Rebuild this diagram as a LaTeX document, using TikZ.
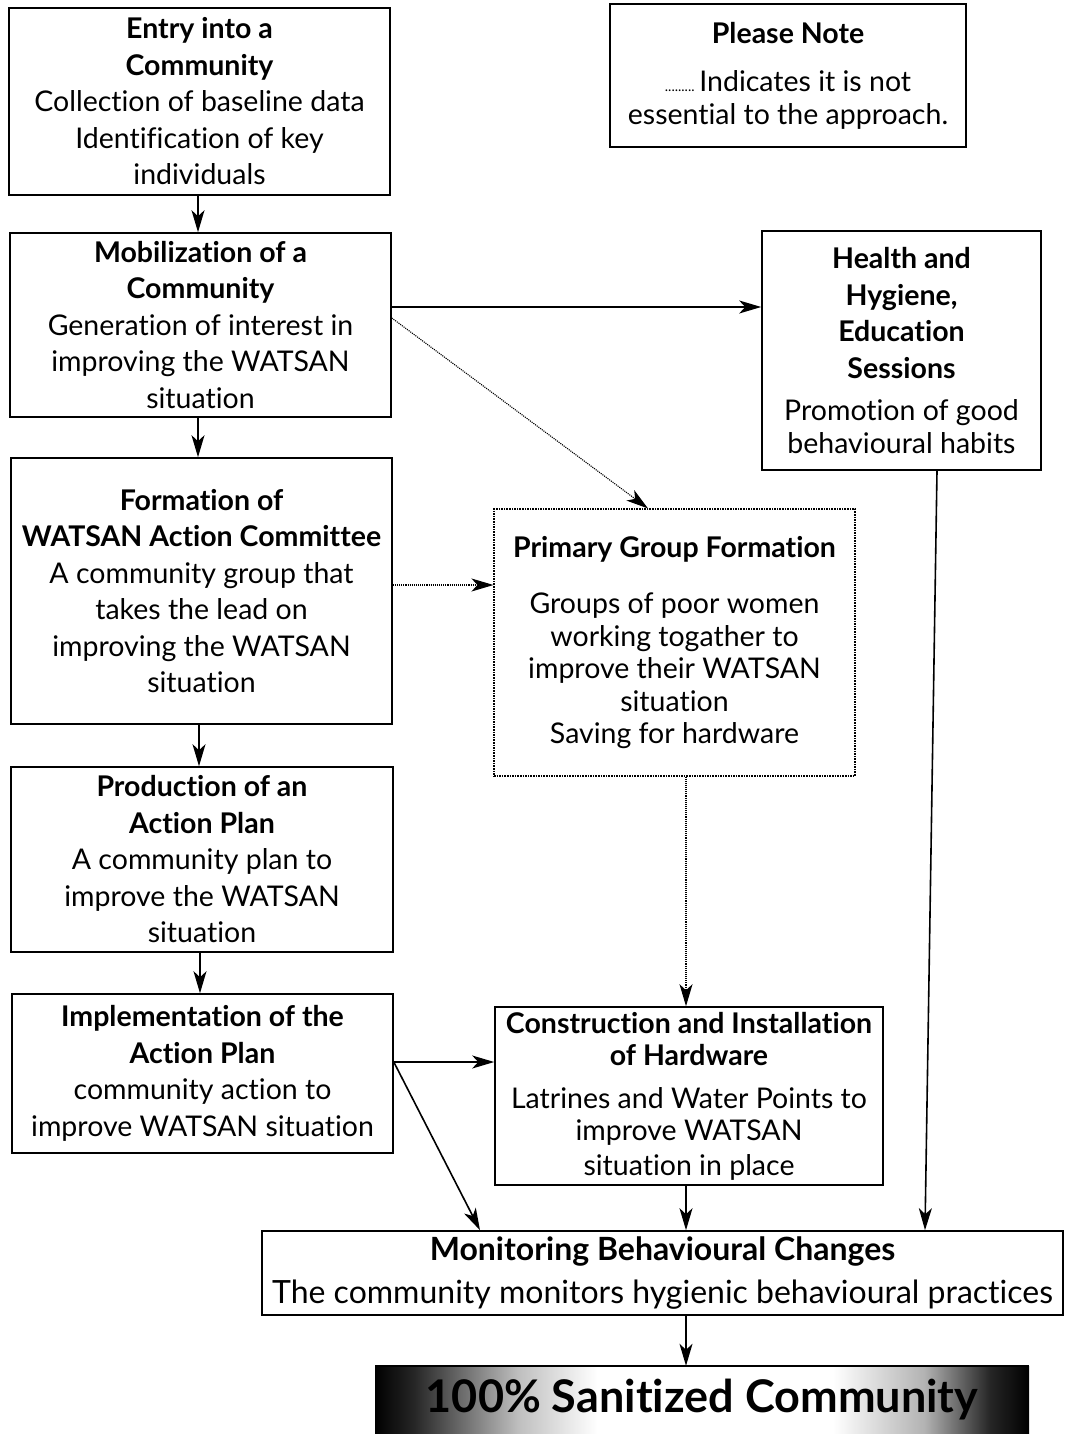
\documentclass[tikz,border=0pt]{standalone}
\usepackage{fontspec}
\setmainfont{Lato}[Ligatures=NoCommon]
\usetikzlibrary{arrows.meta,calc}
\pgfdeclarehorizontalshading{bannershade}{100bp}{color(0bp)=(black); color(25bp)=(black); color(28bp)=(black!85); color(36bp)=(black!25); color(42bp)=(white); color(60bp)=(white); color(67bp)=(black!30); color(72bp)=(black!85); color(75bp)=(black); color(100bp)=(black)}
\begin{document}
\begin{tikzpicture}[x=1pt,y=-1pt,
  box/.style={draw, line width=1.6pt, rectangle, inner sep=0pt, align=center,
    font=\fontsize{28.5}{36.5}\selectfont},
  dotbox/.style={box, densely dotted, line width=1.1pt},
  arr/.style={line width=1.6pt, -{Stealth[length=22pt,width=13pt,inset=6pt]}},
  darr/.style={line width=1.1pt, densely dotted, -{Stealth[length=22pt,width=13pt,inset=6pt]}}
]
\useasboundingbox (0,0) rectangle (1067,1434);
\fill[white] (0,0) rectangle (1067,1434);

\node[box, minimum width=381pt, minimum height=187pt] (entry) at (199.5,101.5)
 {\textbf{Entry into a}\\ \textbf{Community}\\ Collection of baseline data\\ Identification of key\\ individuals};
\node[box, minimum width=381pt, minimum height=184pt] (mob) at (200.5,325)
 {\textbf{Mobilization of a}\\ \textbf{Community}\\ Generation of interest in\\ improving the WATSAN\\ situation};
\node[box, minimum width=381pt, minimum height=266pt] (form) at (201.5,591)
 {\textbf{Formation of}\\ \textbf{WATSAN Action Committee}\\ A community group that\\ takes the lead on\\ improving the WATSAN\\ situation};
\node[box, minimum width=382pt, minimum height=185pt] (prod) at (202,859.5)
 {\textbf{Production of an}\\ \textbf{Action Plan}\\ A community plan to\\ improve the WATSAN\\ situation};
\node[box, minimum width=381pt, minimum height=159pt] (impl) at (202.5,1073.5)
 {\textbf{Implementation of the}\\ \textbf{Action Plan}\\ community action to\\ improve WATSAN situation};

\node[box, minimum width=356pt, minimum height=143pt] (note) at (788,75.5)
 {\textbf{Please Note}\\[12pt] {\fontsize{14}{14}\selectfont.........}\,Indicates it is not\\[-4pt] essential to the approach.};

\node[box, minimum width=279pt, minimum height=239pt] (health) at (901.5,350.5)
 {\textbf{Health and}\\ \textbf{Hygiene,}\\ \textbf{Education}\\ \textbf{Sessions}\\[6pt] Promotion of good\\[-4pt] behavioural habits};

\node[dotbox, minimum width=361pt, minimum height=267pt] (prim) at (674.5,642.5)
 {\textbf{Primary Group Formation}\\[20pt] Groups of poor women\\[-4pt] working togather to\\[-4pt] improve their WATSAN\\[-4pt] situation\\[-4pt] Saving for hardware};

\node[box, minimum width=388pt, minimum height=178pt] (cons) at (689,1096)
 {\textbf{Construction and Installation}\\[-4pt] \textbf{of Hardware}\\[6pt] Latrines and Water Points to\\[-4pt] improve WATSAN\\[-2pt] situation in place};

\node[box, minimum width=801pt, minimum height=84pt, font=\fontsize{32}{43}\selectfont] (mon) at (662.5,1273)
 {\textbf{Monitoring Behavioural Changes}\\ The community monitors hygienic behavioural practices};

\shade[shading=bannershade] (375,1366) rectangle (1029,1434);
\draw[line width=1.6pt] (375,1366) -- (1029,1366);
\node[inner sep=0pt, minimum width=654pt, minimum height=68pt, font=\fontsize{45}{45}\selectfont\bfseries] (banner) at (702,1400) {100\% Sanitized Community};

% connectors
\draw[arr] (entry.south -| 198,0) -- (mob.north -| 198,0);
\draw[arr] (mob.south -| 198,0) -- (form.north -| 198,0);
\draw[arr] (form.south -| 199,0) -- (prod.north -| 199,0);
\draw[arr] (prod.south -| 200,0) -- (impl.north -| 200,0);
\draw[arr] (mob.east |- 0,307) -- (health.west |- 0,307);
\draw[darr] (mob.east |- 0,318) -- (prim.north -| 648,0);
\draw[darr] (form.east |- 0,585) -- (prim.west |- 0,585);
\draw[darr] (prim.south -| 686,0) -- (cons.north -| 686,0);
\draw[arr] (impl.east |- 0,1062) -- (cons.west |- 0,1062);
\draw[arr] (impl.east |- 0,1062) -- (mon.north -| 480,0);
\draw[arr] (cons.south -| 686,0) -- (mon.north -| 686,0);
\draw[arr] (health.south -| 937,0) -- (mon.north -| 925,0);
\draw[arr] (mon.south -| 686,0) -- (banner.north -| 686,0);
\end{tikzpicture}
\end{document}
